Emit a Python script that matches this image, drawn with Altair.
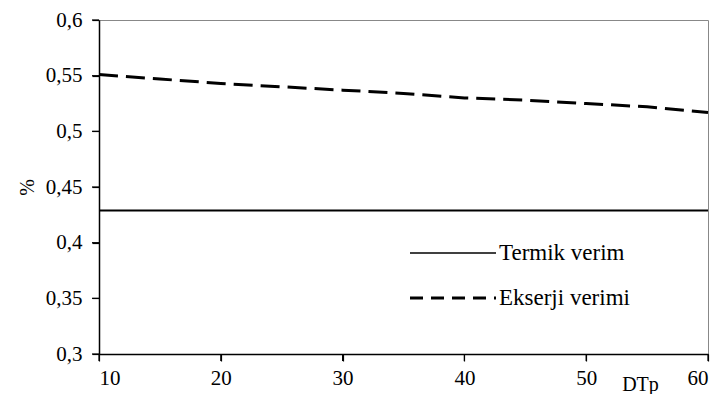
import altair as alt
import pandas as pd

x_vals = [10, 15, 20, 25, 30, 35, 40, 45, 50, 55, 60]
termik = [0.429] * 11
ekserji = [0.551, 0.547, 0.543, 0.540, 0.537, 0.534, 0.530, 0.528, 0.525, 0.522, 0.517]
series_names = ["Termik verim", "Ekserji verimi"]
y_ticks = [0.3, 0.35, 0.4, 0.45, 0.5, 0.55, 0.6]
x_ticks = [10, 20, 30, 40, 50, 60]

df = pd.DataFrame({
    "x": x_vals * 2,
    "y": termik + ekserji,
    "s": [series_names[0]] * 11 + [series_names[1]] * 11,
})

FONT = "Liberation Serif"
TOP = 20
LEFT = 99
H = 334
W = 609

xs = alt.Scale(domain=[10, 60], nice=False, zero=False)
ys = alt.Scale(domain=[0.3, 0.6], nice=False, zero=False)

x_axis = alt.Axis(values=x_ticks, title="DTp", titleX=541, titleY=36,
                  titleAlign="center", titleBaseline="alphabetic")
y_axis = alt.Axis(values=y_ticks,
                  labelExpr="replace(format(datum.value, '.2~f'), '.', ',')",
                  title="%", titlePadding=8)

base = alt.Chart(df).encode(
    x=alt.X("x:Q", scale=xs, axis=x_axis),
    y=alt.Y("y:Q", scale=ys, axis=y_axis),
)

solid = base.transform_filter(alt.datum.s == series_names[0]).mark_line(
    color="black", strokeWidth=2)
dashed = base.transform_filter(alt.datum.s == series_names[1]).mark_line(
    color="black", strokeWidth=3, strokeDash=[19, 8])

# explicit tick marks drawn from the tick arrays
xtick_marks = alt.Chart(pd.DataFrame({"t": x_ticks})).mark_rule(
    color="black", strokeWidth=1.2).encode(
    x=alt.X("t:Q", scale=xs), y=alt.value(H), y2=alt.value(H + 7))
ytick_marks = alt.Chart(pd.DataFrame({"t": y_ticks})).mark_rule(
    color="black", strokeWidth=1.2).encode(
    y=alt.Y("t:Q", scale=ys), x=alt.value(-7), x2=alt.value(0))

leg_y = [253, 298]

leg_solid = alt.Chart(pd.DataFrame({"name": [series_names[0]]})).mark_rule(
    color="black", strokeWidth=1.5).encode(
    x=alt.value(410 - LEFT), x2=alt.value(496 - LEFT), y=alt.value(leg_y[0] - TOP))
leg_dash = alt.Chart(pd.DataFrame({"name": [series_names[1]]})).mark_rule(
    color="black", strokeWidth=3, strokeDash=[13, 8]).encode(
    x=alt.value(410 - LEFT), x2=alt.value(496 - LEFT), y=alt.value(leg_y[1] - TOP))
leg_t1 = alt.Chart(pd.DataFrame({"name": [series_names[0]]})).mark_text(
    font=FONT, fontSize=23, align="left", baseline="middle", color="black").encode(
    x=alt.value(499 - LEFT), y=alt.value(leg_y[0] - TOP), text="name:N")
leg_t2 = alt.Chart(pd.DataFrame({"name": [series_names[1]]})).mark_text(
    font=FONT, fontSize=23, align="left", baseline="middle", color="black").encode(
    x=alt.value(499 - LEFT), y=alt.value(leg_y[1] - TOP), text="name:N")

chart = alt.layer(solid, dashed, xtick_marks, ytick_marks,
                  leg_solid, leg_dash, leg_t1, leg_t2).properties(
    width=W, height=H,
    autosize=alt.AutoSizeParams(type="none"),
    padding={"left": LEFT - 8, "top": TOP - 8, "right": 4, "bottom": 40},
    background="white",
).configure_view(
    stroke="#888888", strokeWidth=1
).configure_axis(
    grid=False, ticks=True, domain=True, domainColor="black", domainWidth=1.5,
    tickColor="black", tickWidth=1.2, tickSize=7,
    labelFont=FONT, labelFontSize=21, labelColor="black",
    titleFont=FONT, titleFontSize=20, titleFontWeight="normal", titleColor="black",
).configure_axisX(labelPadding=6).configure_axisY(labelPadding=10)

chart.save("out.html", embed_options={"renderer": "svg", "actions": False})
